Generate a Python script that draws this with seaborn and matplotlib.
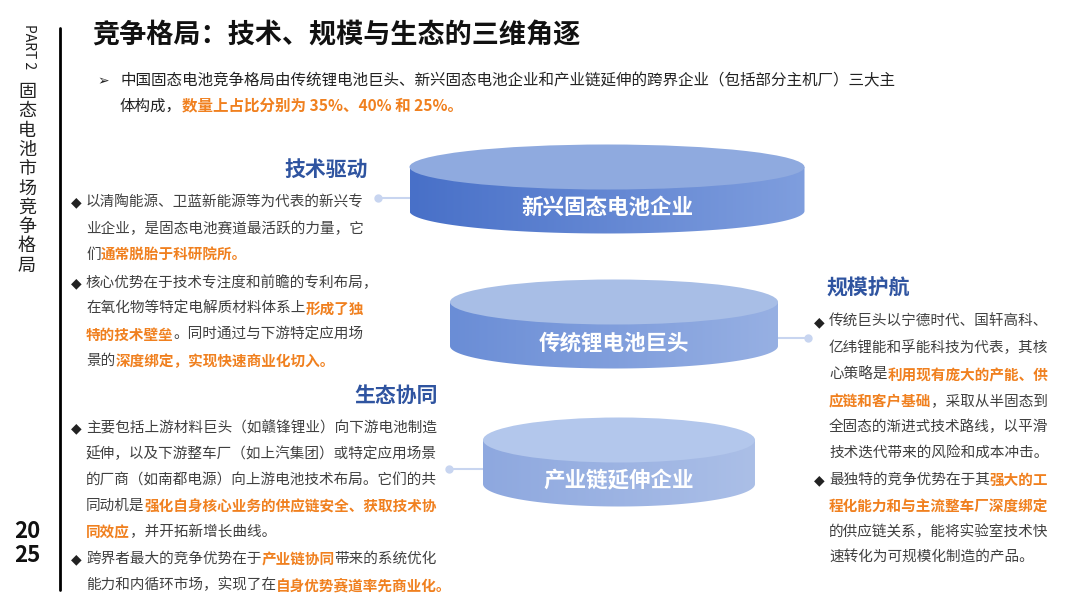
import numpy as np
import matplotlib
matplotlib.use("Agg")
import matplotlib.pyplot as plt
import seaborn as sns
from matplotlib.patches import Ellipse, Polygon
from matplotlib.colors import LinearSegmentedColormap

sns.set_theme(style="white")
plt.rcParams['font.family'] = ['Noto Sans CJK SC', 'DejaVu Sans']

# ---- data ----
categories = ["新兴固态电池企业", "传统锂电池巨头", "产业链延伸企业"]
shares = [40, 35, 25]
headings = ["技术驱动", "规模护航", "生态协同"]

ORANGE = "#F0801F"
DARK = "#404040"
BLUE_H = "#2F54A0"
FS = 10.5

fig = plt.figure(figsize=(10.8, 6.08), dpi=100)
ax = fig.add_axes([0, 0, 1, 1])
ax.set_xlim(0, 1080)
ax.set_ylim(608, 0)
ax.axis("off")
fig.canvas.draw()
R = fig.canvas.get_renderer()

def rich(x, y, segs, size=FS):
    for txt, col, w in segs:
        t = ax.text(x, y, txt, color=col, fontsize=size, fontweight=w, va="center", ha="left")
        bb = t.get_window_extent(R)
        x += bb.width

# left strip
ax.plot([60, 60], [28, 590], color="black", lw=2)
ax.text(29, 47, "PART 2", rotation=-90, fontsize=10, ha="center", va="center", color="#222")
for i, ch in enumerate("固态电池市场竞争格局"):
    ax.text(27, 92 + i * 19.3, ch, fontsize=13, ha="center", va="center", color="#222")
ax.text(27, 531, "20", fontsize=16, fontweight="bold", ha="center", va="center", color="#111")
ax.text(27, 555, "25", fontsize=16, fontweight="bold", ha="center", va="center", color="#111")

# title & intro
ax.text(92, 35, "竞争格局：技术、规模与生态的三维角逐", fontsize=19.5, fontweight="bold", va="center", color="#111")
ax.text(97, 81, "➢", fontsize=10, va="center", color="#222", family="DejaVu Sans")
rich(120, 81, [("中国固态电池竞争格局由传统锂电池巨头、新兴固态电池企业和产业链延伸的跨界企业（包括部分主机厂）三大主", "#222", "normal")], size=11.2)
rich(120, 106, [("体构成，", "#222", "normal"), ("数量上占比分别为 35%、40% 和 25%。", ORANGE, "bold")], size=11.2)

# discs
disc_geo = [  # cx, width, top-centre y
    (607, 395, 167),
    (614, 328, 302),
    (619, 272, 440),
]
side_cols = [("#4870C8", "#7F9EDE"), ("#6A8DD6", "#97B0E3"), ("#8EA8DF", "#ABBFE7")]
top_cols = ["#8FAADF", "#A8BEE6", "#B3C7EC"]
H = 45
T = 44
for cat, sh, (cx, w, yt), (c0, c1), tc in zip(categories, shares, disc_geo, side_cols, top_cols):
    a = w / 2
    yb = yt + T
    th = np.linspace(np.pi, 0, 100)
    pts = [(cx - a, yt)] + [(cx + a * np.cos(t), yb + H / 2 * np.sin(t)) for t in th] + [(cx + a, yt)]
    poly = Polygon(pts, closed=True, facecolor="none", edgecolor="none")
    ax.add_patch(poly)
    cmap = LinearSegmentedColormap.from_list("g", [c0, c1])
    im = ax.imshow(np.linspace(0, 1, 256)[None, :], cmap=cmap, aspect="auto",
                   extent=(cx - a, cx + a, yb + H / 2 + 1, yt - H / 2), zorder=2)
    im.set_clip_path(poly)
    ax.add_patch(Ellipse((cx, yt), w, H, facecolor=tc, edgecolor="none", zorder=3))
    ax.text(cx, yb - 3, cat, color="white", fontsize=15.5, fontweight="bold", ha="center", va="center", zorder=4)
ax.set_xlim(0, 1080)
ax.set_ylim(608, 0)

# connectors
LC = "#C8D5F0"
for (x0, x1, y), dot in [((378, 410, 198), 378), ((778, 808, 338), 808), ((449, 484, 469), 449)]:
    ax.plot([x0, x1], [y, y], color=LC, lw=1.5, zorder=1)
    ax.plot([dot], [y], "o", color=LC, ms=5, zorder=1)

# headings
ax.text(368, 170, headings[0], fontsize=15, fontweight="bold", color=BLUE_H, ha="right", va="center")
ax.text(826, 288, headings[1], fontsize=15, fontweight="bold", color=BLUE_H, ha="left", va="center")
ax.text(438, 395, headings[2], fontsize=15, fontweight="bold", color=BLUE_H, ha="right", va="center")

N = DARK
def B(x, y):
    ax.text(x - 1, y, "◆", fontsize=10, color="#222", va="center", ha="left", family="DejaVu Sans")

# block 1
B(72, 202)
rich(86, 202, [("以清陶能源、卫蓝新能源等为代表的新兴专", N, "normal")])
rich(86, 229, [("业企业，是固态电池赛道最活跃的力量，它", N, "normal")])
rich(86, 255, [("们", N, "normal"), ("通常脱胎于科研院所。", ORANGE, "bold")])
B(72, 283)
rich(86, 283, [("核心优势在于技术专注度和前瞻的专利布局，", N, "normal")])
rich(86, 309, [("在氧化物等特定电解质材料体系上", N, "normal"), ("形成了独", ORANGE, "bold")])
rich(86, 335, [("特的技术壁垒", ORANGE, "bold"), ("。同时通过与下游特定应用场", N, "normal")])
rich(86, 361, [("景的", N, "normal"), ("深度绑定，实现快速商业化切入。", ORANGE, "bold")])

# block 2
B(72, 428)
rich(86, 428, [("主要包括上游材料巨头（如赣锋锂业）向下游电池制造", N, "normal")])
rich(86, 454, [("延伸，以及下游整车厂（如上汽集团）或特定应用场景", N, "normal")])
rich(86, 480, [("的厂商（如南都电源）向上游电池技术布局。它们的共", N, "normal")])
rich(86, 506, [("同动机是", N, "normal"), ("强化自身核心业务的供应链安全、获取技术协", ORANGE, "bold")])
rich(86, 532, [("同效应", ORANGE, "bold"), ("，并开拓新增长曲线。", N, "normal")])
B(72, 559)
rich(86, 559, [("跨界者最大的竞争优势在于", N, "normal"), ("产业链协同", ORANGE, "bold"), ("带来的系统优化", N, "normal")])
rich(86, 585, [("能力和内循环市场，实现了在", N, "normal"), ("自身优势赛道率先商业化。", ORANGE, "bold")])

# block 3
B(815, 322)
rich(829, 322, [("传统巨头以宁德时代、国轩高科、", N, "normal")])
rich(829, 348, [("亿纬锂能和孚能科技为代表，其核", N, "normal")])
rich(829, 375, [("心策略是", N, "normal"), ("利用现有庞大的产能、供", ORANGE, "bold")])
rich(829, 401, [("应链和客户基础", ORANGE, "bold"), ("，采取从半固态到", N, "normal")])
rich(829, 427, [("全固态的渐进式技术路线，以平滑", N, "normal")])
rich(829, 453, [("技术迭代带来的风险和成本冲击。", N, "normal")])
B(815, 480)
rich(829, 480, [("最独特的竞争优势在于其", N, "normal"), ("强大的工", ORANGE, "bold")])
rich(829, 506, [("程化能力和与主流整车厂深度绑定", ORANGE, "bold")])
rich(829, 532, [("的供应链关系，能将实验室技术快", N, "normal")])
rich(829, 558, [("速转化为可规模化制造的产品。", N, "normal")])

fig.savefig("out.png", dpi=100)
